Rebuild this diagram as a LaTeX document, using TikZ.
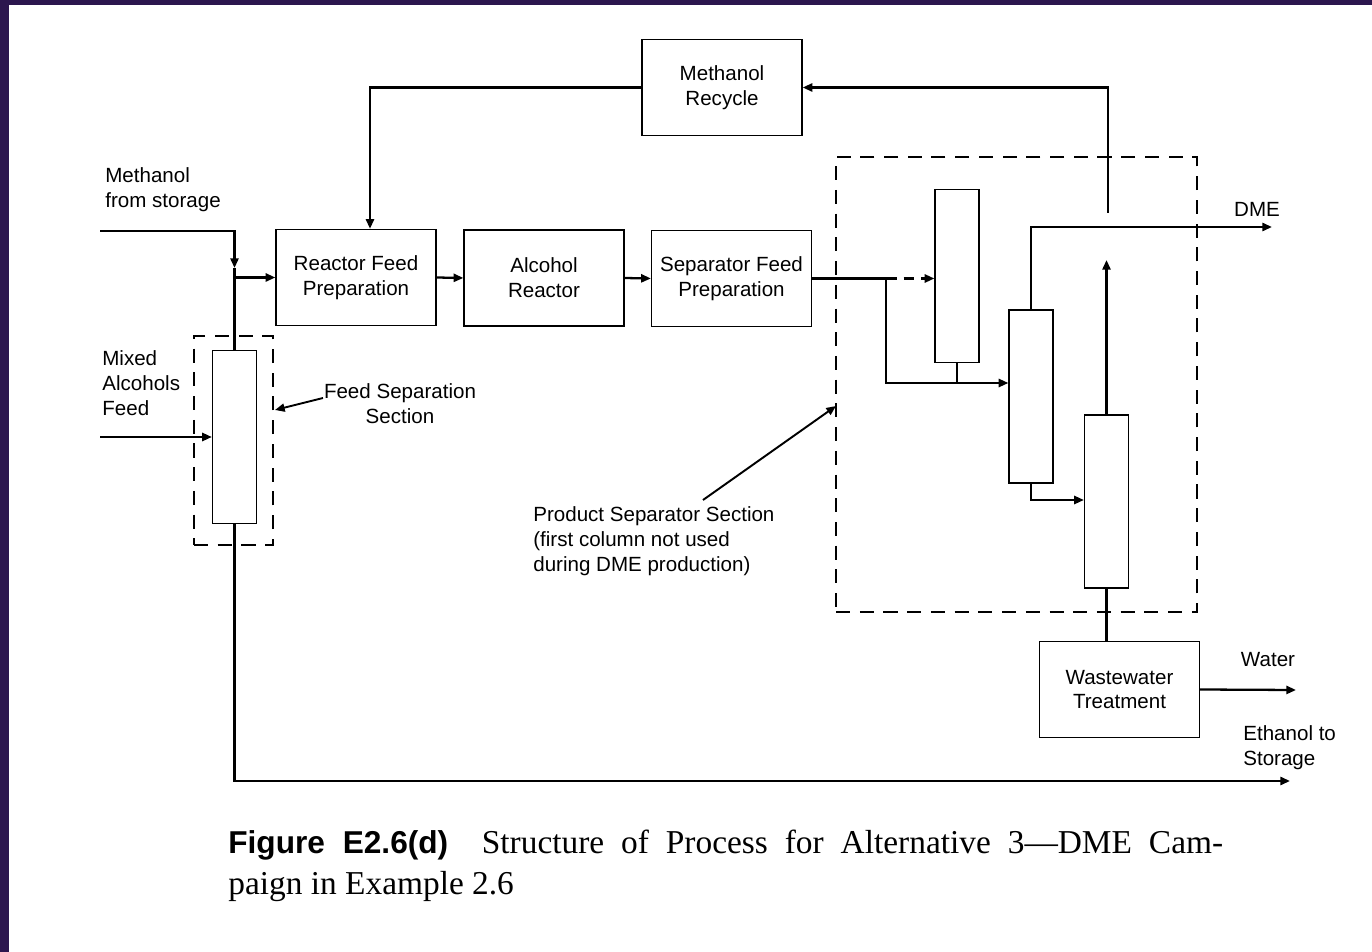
\documentclass[tikz,border=0pt]{standalone}
\usepackage{fontspec}
\setmainfont{Liberation Sans}
\newfontfamily\capfont{Liberation Serif}
\usetikzlibrary{arrows.meta, positioning}
\definecolor{frame}{RGB}{44,22,78}
\tikzset{
        x=0.02cm, y=-0.02cm, % one unit is one pixel of the original figure
        >={Triangle[length=5.5pt,width=4.6pt]}, % small filled arrow heads
        flow/.style={line width=1.3pt}, % process streams
        unit/.style={draw, line width=0.8pt, minimum width=3.2cm, minimum height=1.92cm,
                     align=center, inner sep=0pt, font=\fontsize{11.7}{14.2}\selectfont},
        column/.style={draw, line width=0.7pt, minimum width=0.88cm, minimum height=3.46cm, inner sep=0pt},
        section/.style={draw, dash pattern=on 8pt off 5.5pt, line width=1.4pt, inner sep=0pt},
        label/.style={align=left, inner sep=0pt, font=\fontsize{11.7}{14.2}\selectfont},
    }
\begin{document}
\begin{tikzpicture}
    % frame and page
    \fill[frame] (0,0) rectangle (1372,952);
    \fill[white] (9,5) rectangle (1372,952);
    \useasboundingbox (0,0) rectangle (1372,952);

    % units
    \node[unit] (recycle) at (722,87.5) {Methanol\\Recycle};
    \node[unit] (rfp) at (356,277.5) {Reactor Feed\\Preparation};
    \node[unit] (ar) at (544,278) {Alcohol\\Reactor};
    \node[unit] (sfp) at (731.5,278.5) {Separator Feed\\Preparation};
    \node[unit] (wwt) at (1119.5,689.5) {Wastewater\\Treatment};

    % columns
    \node[column] (fcol) at (234.5,437) {};
    \node[column] (c1) at (957,276) {};
    \node[column] (c2) at (1031,396.5) {};
    \node[column] (c3) at (1106.5,501.5) {};

    % dashed sections
    \node[section, minimum width=1.58cm, minimum height=4.18cm] (fsec) at (233.5,440.5) {};
    \node[section, minimum width=7.22cm, minimum height=9.1cm] (psec) at (1016.5,384.5) {};

    % free ends and junctions
    \coordinate (mfs) at (100,231);
    \coordinate (mdown) at (234.5,268);
    \coordinate (maf) at (100,437);
    \coordinate (eth) at (1290,781);
    \coordinate (s1) at (886,278.5);
    \coordinate (s2) at (886,383);
    \coordinate (s3) at (1031,500);
    \coordinate (r1) at (1106.5,260);
    \coordinate (r2) at (1108,213);
    \coordinate (dme) at (1272,227);
    \coordinate (water) at (1296,690);
    \coordinate (fpt) at (275,410);
    \coordinate (ppt) at (836,406);

    % streams
    \draw[flow, ->] (mfs) -| (mdown);
    \draw[flow] (mdown) -- (fcol.north);
    \draw[flow, ->] (fcol.north |- rfp.west) -- (rfp.west);
    \draw[flow, ->] (maf) -- (fcol.west);
    \draw[flow, ->] (fcol.south) |- (eth);
    \draw[flow, ->] (recycle.west) -| ([xshift=0.28cm]rfp.north);
    \draw[flow, ->] (rfp.east) -- (ar.west);
    \draw[flow, ->] (ar.east) -- (sfp.west);
    \draw[flow] (sfp.east) -- (s1);
    \draw[flow, ->, dash pattern=on 6pt off 4pt] (s1) -- (c1.west |- s1);
    \draw[flow, ->] (s1) |- (c2.west |- s2);
    \draw[flow] (c1.south) -- (c1.south |- s2);
    \draw[flow, ->] (c2.north) |- (dme);
    \draw[flow, ->] (c2.south) |- (c3.west |- s3);
    \draw[flow, ->] (c3.north) -- (r1);
    \draw[flow, ->] (r2) |- (recycle.east);
    \draw[flow] (c3.south) -- (c3.south |- wwt.north);
    \draw[flow, ->] (wwt.east) -- (water);

    % labels
    \node[label, anchor=north west] (lmfs) at (105,167) {Methanol\\from storage};
    \node[label, anchor=north west] (lmaf) at (102,350) {Mixed\\Alcohols\\Feed};
    \node[label, align=center] (lfsec) at (400,404) {Feed Separation\\Section};
    \node[label, anchor=north west] (lpsec) at (533,506) {Product Separator Section\\(first column not used\\during DME production)};
    \node[label] (ldme) at (1257,209) {DME};
    \node[label] (lwater) at (1268,660) {Water};
    \node[label, anchor=north west] (leth) at (1243,725) {Ethanol to\\Storage};
    \draw[line width=1.1pt, ->] (323,398) -- (fpt);
    \draw[line width=1.1pt, ->] (703,500) -- (ppt);

    % caption
    \node[anchor=north west, text width=19.9cm, align=justify, inner sep=0pt,
          font=\capfont\fontsize{19}{23}\selectfont] (caption) at (228,830)
      {{\fontspec{Liberation Sans}\fontsize{18}{23}\selectfont\bfseries Figure E2.6(d)}\hspace{0.5em} Structure of Process for Alternative 3—DME Cam-\linebreak paign in Example 2.6};
\end{tikzpicture}
\end{document}
